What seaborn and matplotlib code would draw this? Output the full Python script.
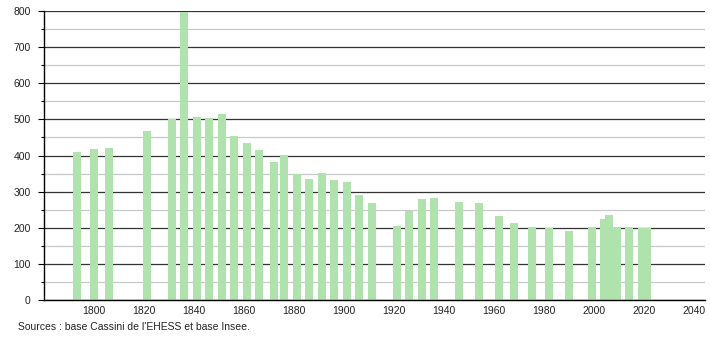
import matplotlib
matplotlib.use("Agg")
import matplotlib.pyplot as plt
from matplotlib.ticker import MultipleLocator
import seaborn as sns
import pandas as pd
import numpy as np

years = [1793, 1800, 1806, 1821, 1831, 1836, 1841, 1846, 1851, 1856, 1861, 1866,
         1872, 1876, 1881, 1886, 1891, 1896, 1901, 1906, 1911, 1921, 1926, 1931,
         1936, 1946, 1954, 1962, 1968, 1975, 1982, 1990, 1999, 2004, 2006, 2009,
         2014, 2019, 2021]
population = [409, 418, 421, 467, 500, 796, 506, 504, 515, 454, 434, 415,
              382, 401, 348, 335, 352, 332, 327, 291, 269, 205, 247, 279,
              282, 271, 269, 233, 213, 202, 198, 191, 202, 224, 235, 203,
              203, 198, 198]
x_ticks = [1800, 1820, 1840, 1860, 1880, 1900, 1920, 1940, 1960, 1980, 2000, 2020, 2040]
y_ticks = [0, 100, 200, 300, 400, 500, 600, 700, 800]
source_text = "Sources : base Cassini de l'EHESS et base Insee."

df = pd.DataFrame({"year": years, "population": population})

sns.set_style("white")
plt.rcParams["font.family"] = ["Liberation Sans", "DejaVu Sans"]

fig = plt.figure(figsize=(7.1, 3.4), dpi=100)
ax = fig.add_axes([44 / 710, 1 - 300 / 340, (705 - 44) / 710, (300 - 11) / 340])

min_gap = np.min(np.diff(sorted(set(years))))
sns.barplot(data=df, x="year", y="population", native_scale=True,
            width=3.2 / min_gap, color="#b0e2ae", saturation=1,
            linewidth=0, edgecolor="none", errorbar=None, ax=ax)

ax.set_xlim(1779.9, 2044.3)
ax.set_ylim(0, 800)
ax.set_xticks(x_ticks)
ax.set_xticklabels([str(t) for t in x_ticks])
ax.set_yticks(y_ticks)
ax.yaxis.set_minor_locator(MultipleLocator(50))
ax.set_xlabel("")
ax.set_ylabel("")

ax.set_axisbelow(True)
ax.yaxis.grid(True, which="major", color="#333333", linewidth=0.9)
ax.yaxis.grid(True, which="minor", color="#c8c8c8", linewidth=0.9)
ax.xaxis.grid(False)

for s in ["top", "right"]:
    ax.spines[s].set_visible(False)
for s in ["left", "bottom"]:
    ax.spines[s].set_color("black")
    ax.spines[s].set_linewidth(1.0)

ax.tick_params(axis="y", which="major", length=4, width=0.8, color="black",
               left=True, labelsize=7.5, pad=5.5, labelcolor="#222222")
ax.tick_params(axis="y", which="minor", length=2, width=0.8, color="black", left=True)
ax.tick_params(axis="x", which="both", length=0, labelsize=7.5, pad=4, labelcolor="#222222")

fig.text(18 / 710, 1 - 327 / 340, source_text, fontsize=7.5, color="#222222",
         ha="left", va="center")

fig.savefig("out.png", dpi=100)
